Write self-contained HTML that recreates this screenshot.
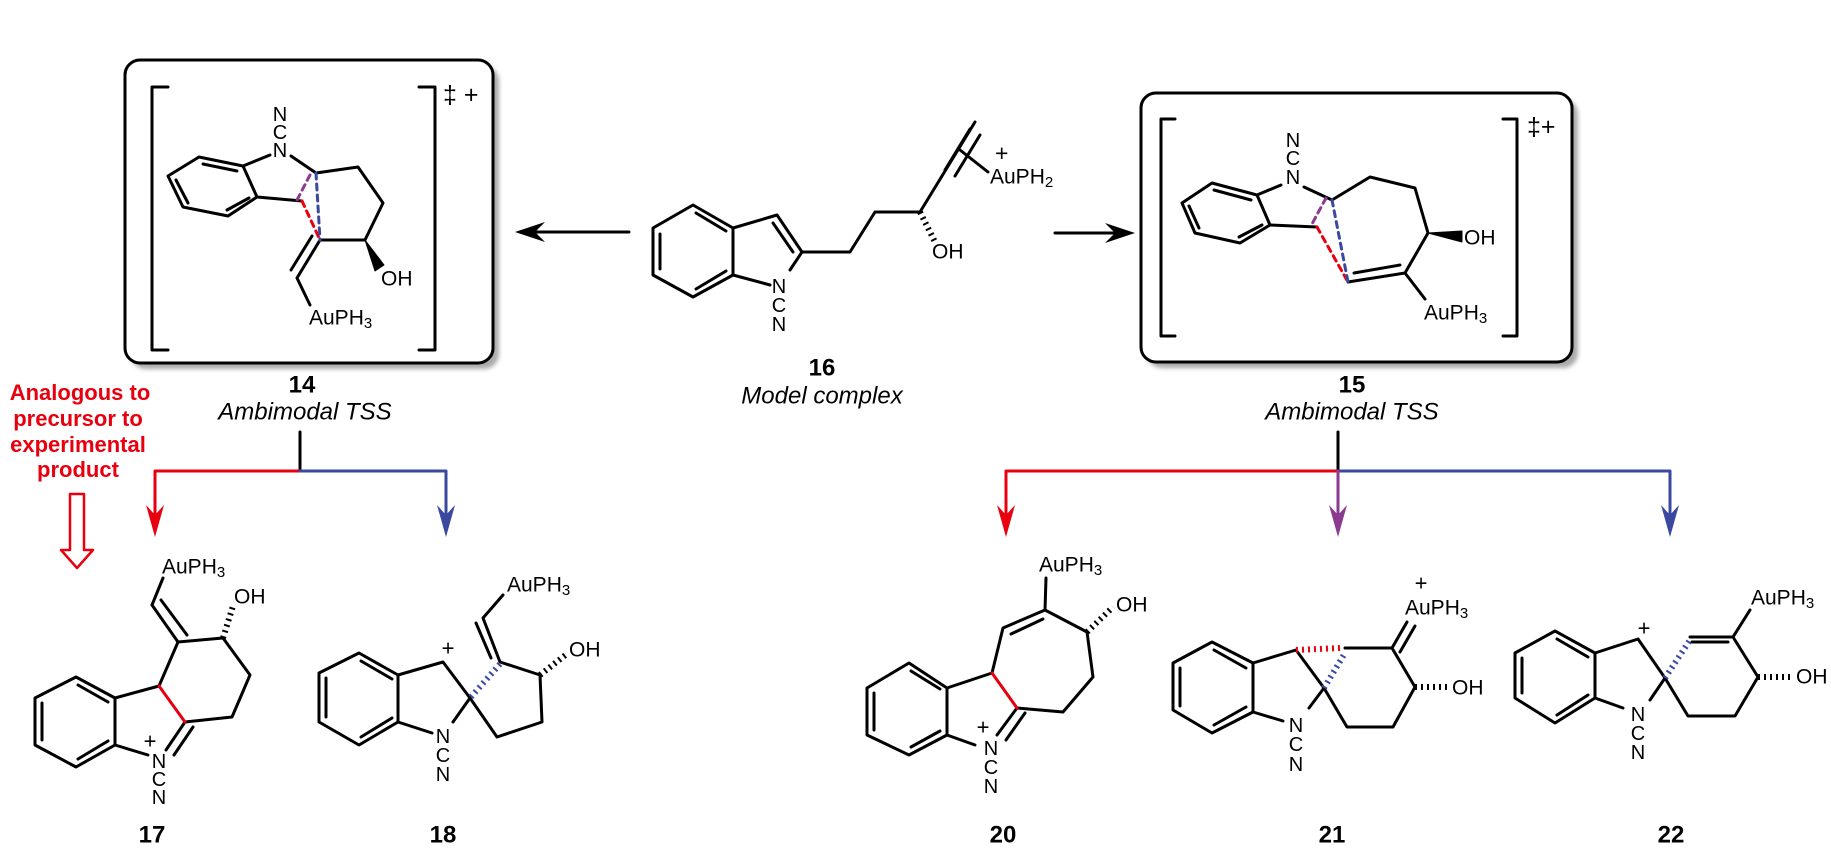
<!DOCTYPE html>
<html><head><meta charset="utf-8"><style>
html,body{margin:0;padding:0;background:#fff;}
svg{display:block;}
text{font-family:"Liberation Sans",Arial,sans-serif;}
</style></head><body>
<svg width="1831" height="850" viewBox="0 0 1831 850" xmlns="http://www.w3.org/2000/svg">
<defs>
<filter id="sh" x="-5%" y="-5%" width="110%" height="110%"><feGaussianBlur stdDeviation="2"/></filter>
</defs>
<g fill="none" stroke="#000" stroke-width="3" stroke-linejoin="round" stroke-linecap="round">

<rect x="131" y="66" width="368" height="303" rx="15" fill="#aaa" stroke="none" filter="url(#sh)"/>
<rect x="125" y="60" width="368" height="303" rx="15" fill="#fff"/>
<path d="M168,87 H152 V350 H168 M419,87 H435 V350 H419"/>
<rect x="1147" y="99" width="431" height="269" rx="15" fill="#aaa" stroke="none" filter="url(#sh)"/>
<rect x="1141" y="93" width="431" height="269" rx="15" fill="#fff"/>
<path d="M1175,119 H1161 V336 H1175 M1503,119 H1517 V336 H1503"/>

<path d="M168,176 L199,157 L243,166 L257,197 L228,216 L183,207 Z"/>
<path d="M203,164 L237,171 M249,198 L227,210 M176,180 L188,203"/>
<path d="M243,166 L270,155 M291,156 L316,173 L358,167 L383,203 L365,240 L320,240 M257,197 L302,201"/>
<path d="M320,240 L297,278 M312,236 L291,270 M297,278 L310,305"/>
<path d="M310,175 L297,200" stroke="#8b3a8f" stroke-dasharray="6 5"/>
<path d="M302,201 L320,240" stroke="#e8000f" stroke-dasharray="6 5"/>
<path d="M316,173 L320,240" stroke="#3a48a0" stroke-dasharray="6 5"/>
<polygon points="365,240 375,271 384,265" fill="#000" stroke-width="1"/>

<path d="M1182,203 L1212,183 L1257,195 L1270,225 L1240,243 L1195,233 Z"/>
<path d="M1214,190 L1251,200 M1262,225 L1239,237 M1189,206 L1199,228"/>
<path d="M1257,195 L1281,185 M1304,187 L1332,200 L1370,177 L1415,188 L1428,233 L1405,273 L1348,282 M1400,265 L1354,273 M1405,273 L1425,299 M1270,225 L1317,227"/>
<path d="M1326,198 L1312,224" stroke="#8b3a8f" stroke-dasharray="6 5"/>
<path d="M1317,227 L1348,282" stroke="#e8000f" stroke-dasharray="6 5"/>
<path d="M1332,200 L1348,282" stroke="#3a48a0" stroke-dasharray="6 5"/>
<polygon points="1428,233 1462,231 1462,242" fill="#000" stroke-width="1"/>

<path d="M653,228 L693,205 L733,228 L733,275 L693,297 L653,275 Z"/>
<path d="M660,234 L660,269 M696,213 L726,231 M696,289 L726,271"/>
<path d="M733,228 L777,215 L802,252 L790,270 M773,223 L793,252 M733,275 L770,285"/>
<path d="M802,252 L850,252 L875,212 L920,212 L975,122 M955,176 L980,135 M945,170 L970,129 M960,150 L988,172"/>
<path d="M920,212 L935,242" stroke-width="6" stroke-dasharray="2 4" stroke-linecap="butt"/>

<path d="M629,232 L530,232 M1055,233 L1120,233"/>
<polygon points="515,232 545,222 535,232 545,242" fill="#000" stroke="none"/>
<polygon points="1135,233 1105,223 1115,233 1105,243" fill="#000" stroke="none"/>

<path d="M300,432 V471" />
<path d="M300,471 H155 V515" stroke="#e8000f"/>
<path d="M300,471 H446 V515" stroke="#3a48a0"/>
<polygon points="155,537 146,505 155,515 164,505" fill="#e8000f" stroke="none"/>
<polygon points="446,537 437,505 446,515 455,505" fill="#3a48a0" stroke="none"/>
<polygon points="70,494 84,494 84,550 93,550 77,568 61,550 70,550" stroke="#e8000f" stroke-width="2.5"/>

<path d="M1338,432 V471"/>
<path d="M1338,471 H1006 V515" stroke="#e8000f"/>
<path d="M1338,471 H1670 V515" stroke="#3a48a0"/>
<path d="M1338,471 V515" stroke="#8b3a8f"/>
<polygon points="1006,537 997,505 1006,515 1015,505" fill="#e8000f" stroke="none"/>
<polygon points="1338,537 1329,505 1338,515 1347,505" fill="#8b3a8f" stroke="none"/>
<polygon points="1670,537 1661,505 1670,515 1679,505" fill="#3a48a0" stroke="none"/>

<path d="M35,698 L76,677 L115,698 L115,745 L76,767 L35,745 Z"/>
<path d="M42,703 L42,740 M78,685 L108,702 M78,759 L108,741"/>
<path d="M115,698 L159,686 L178,642 L223,638 L250,675 L232,717 L185,722 L166,750 M193,727 L174,755 M115,745 L148,755"/>
<path d="M159,686 L185,722" stroke="#e8000f"/>
<path d="M178,642 L152,605 M187,635 L161,600 M152,605 L163,578"/>
<path d="M223,638 L233,606" stroke-width="6" stroke-dasharray="2 4" stroke-linecap="butt"/>

<path d="M319,673 L359,653 L398,675 L398,722 L359,745 L319,722 Z"/>
<path d="M326,678 L326,717 M361,661 L392,679 M361,737 L392,718"/>
<path d="M398,675 L443,662 L470,698 L453,722 M398,722 L432,733 M470,698 L497,737 L542,722 L540,675 L500,662 L483,618 L503,595 M491,658 L476,623"/>
<path d="M500,664 L470,698" stroke="#3a48a0" stroke-width="6" stroke-dasharray="2 4" stroke-linecap="butt"/>
<path d="M540,675 L568,653" stroke-width="6" stroke-dasharray="2 4" stroke-linecap="butt"/>

<path d="M867,688 L909,663 L947,688 L947,735 L909,755 L867,735 Z"/>
<path d="M874,693 L874,730 M911,671 L940,689 M911,747 L940,731"/>
<path d="M947,688 L992,673 L1003,628 L1045,610 L1087,632 L1093,677 L1063,712 L1017,708 L997,735 M1011,634 L1043,619 M1025,713 L1006,740 M1045,610 L1046,578 M947,735 L975,745"/>
<path d="M992,673 L1017,708" stroke="#e8000f"/>
<path d="M1087,632 L1113,607" stroke-width="6" stroke-dasharray="2 4" stroke-linecap="butt"/>

<path d="M1173,663 L1212,642 L1253,663 L1253,712 L1212,733 L1173,710 Z"/>
<path d="M1180,668 L1180,706 M1214,650 L1246,668 M1214,725 L1246,707"/>
<path d="M1253,663 L1296,650 L1324,688 L1309,708 M1253,712 L1283,721 M1345,648 L1392,648 L1415,687 L1393,727 L1347,727 L1324,688 M1392,648 L1407,622 M1400,652 L1415,626"/>
<path d="M1296,650 L1340,648" stroke="#e8000f" stroke-width="6" stroke-dasharray="2 4" stroke-linecap="butt"/>
<path d="M1324,688 L1345,653" stroke="#3a48a0" stroke-width="6" stroke-dasharray="2 4" stroke-linecap="butt"/>
<path d="M1415,687 L1450,687" stroke-width="6" stroke-dasharray="2 4" stroke-linecap="butt"/>

<path d="M1515,653 L1555,631 L1595,653 L1595,698 L1555,723 L1515,698 Z"/>
<path d="M1522,658 L1522,693 M1557,639 L1588,657 M1557,715 L1588,695"/>
<path d="M1595,653 L1638,639 L1665,678 L1650,700 M1595,698 L1623,708 M1690,637 L1733,637 L1758,677 L1735,716 L1688,716 L1665,678 M1692,642 L1728,642 M1733,637 L1750,610"/>
<path d="M1665,678 L1690,640" stroke="#3a48a0" stroke-width="6" stroke-dasharray="2 4" stroke-linecap="butt"/>
<path d="M1758,677 L1793,677" stroke-width="6" stroke-dasharray="2 4" stroke-linecap="butt"/>
</g>

<g font-size="21" fill="#000" dominant-baseline="central">
<text x="280" y="115" text-anchor="middle" font-size="20">N</text>
<text x="280" y="133" text-anchor="middle" font-size="20">C</text>
<text x="280" y="151" text-anchor="middle" font-size="20">N</text>
<text x="381" y="279">OH</text>
<text x="309" y="318">AuPH<tspan font-size="15" dy="5">3</tspan></text>
<text x="443" y="95" font-size="25">‡ +</text>
<text x="1293" y="141" text-anchor="middle" font-size="20">N</text>
<text x="1293" y="159" text-anchor="middle" font-size="20">C</text>
<text x="1293" y="178" text-anchor="middle" font-size="20">N</text>
<text x="1464" y="238">OH</text>
<text x="1424" y="313">AuPH<tspan font-size="15" dy="5">3</tspan></text>
<text x="1527" y="127" font-size="25">‡+</text>
<text x="779" y="287" text-anchor="middle" font-size="20">N</text>
<text x="779" y="306" text-anchor="middle" font-size="20">C</text>
<text x="779" y="325" text-anchor="middle" font-size="20">N</text>
<text x="932" y="252">OH</text>
<text x="995" y="153" font-size="23">+</text>
<text x="990" y="177">AuPH<tspan font-size="15" dy="5">2</tspan></text>
<text x="162" y="567">AuPH<tspan font-size="15" dy="5">3</tspan></text>
<text x="234" y="597">OH</text>
<text x="150" y="741" text-anchor="middle" font-size="22">+</text>
<text x="159" y="762" text-anchor="middle" font-size="20">N</text>
<text x="159" y="780" text-anchor="middle" font-size="20">C</text>
<text x="159" y="798" text-anchor="middle" font-size="20">N</text>
<text x="507" y="585">AuPH<tspan font-size="15" dy="5">3</tspan></text>
<text x="569" y="650">OH</text>
<text x="448" y="648" text-anchor="middle" font-size="22">+</text>
<text x="443" y="737" text-anchor="middle" font-size="20">N</text>
<text x="443" y="756" text-anchor="middle" font-size="20">C</text>
<text x="443" y="775" text-anchor="middle" font-size="20">N</text>
<text x="1039" y="565">AuPH<tspan font-size="15" dy="5">3</tspan></text>
<text x="1116" y="605">OH</text>
<text x="983" y="727" text-anchor="middle" font-size="22">+</text>
<text x="991" y="749" text-anchor="middle" font-size="20">N</text>
<text x="991" y="768" text-anchor="middle" font-size="20">C</text>
<text x="991" y="787" text-anchor="middle" font-size="20">N</text>
<text x="1421" y="583" text-anchor="middle" font-size="22">+</text>
<text x="1405" y="608">AuPH<tspan font-size="15" dy="5">3</tspan></text>
<text x="1452" y="688">OH</text>
<text x="1296" y="726" text-anchor="middle" font-size="20">N</text>
<text x="1296" y="745" text-anchor="middle" font-size="20">C</text>
<text x="1296" y="765" text-anchor="middle" font-size="20">N</text>
<text x="1751" y="598">AuPH<tspan font-size="15" dy="5">3</tspan></text>
<text x="1796" y="677">OH</text>
<text x="1644" y="628" text-anchor="middle" font-size="22">+</text>
<text x="1638" y="715" text-anchor="middle" font-size="20">N</text>
<text x="1638" y="734" text-anchor="middle" font-size="20">C</text>
<text x="1638" y="753" text-anchor="middle" font-size="20">N</text>
</g>

<g font-size="24" text-anchor="middle" dominant-baseline="central">
<text x="302" y="385" font-weight="bold">14</text>
<text x="305" y="412" font-style="italic">Ambimodal TSS</text>
<text x="822" y="368" font-weight="bold">16</text>
<text x="822" y="396" font-style="italic">Model complex</text>
<text x="1352" y="385" font-weight="bold">15</text>
<text x="1352" y="412" font-style="italic">Ambimodal TSS</text>
<text x="152" y="835" font-weight="bold">17</text>
<text x="443" y="835" font-weight="bold">18</text>
<text x="1003" y="835" font-weight="bold">20</text>
<text x="1332" y="835" font-weight="bold">21</text>
<text x="1671" y="835" font-weight="bold">22</text>
</g>
<g font-size="22" font-weight="bold" fill="#e8000f" text-anchor="middle">
<text x="80" y="400">Analogous to</text>
<text x="78" y="426">precursor to</text>
<text x="78" y="452">experimental</text>
<text x="78" y="477">product</text>
</g>
</svg>
</body></html>
